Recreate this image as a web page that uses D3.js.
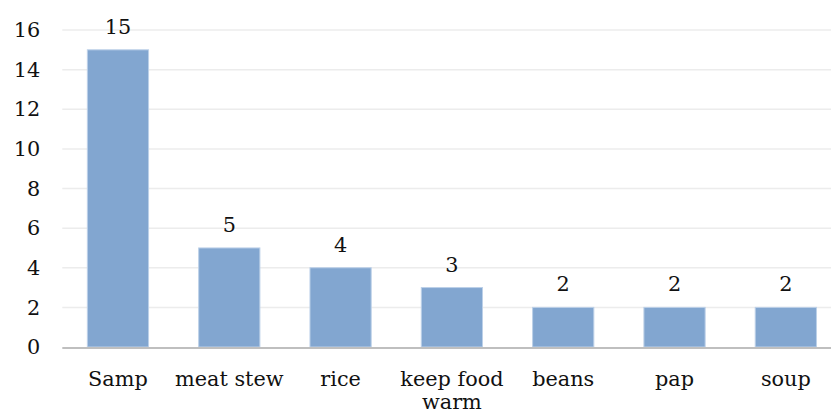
<!DOCTYPE html>
<html>
<head>
<meta charset="utf-8">
<script src="https://cdn.jsdelivr.net/npm/d3@7"></script>
<style>
  html, body { margin: 0; padding: 0; background: #fff; }
  svg { display: block; }
  text { font-family: "DejaVu Serif", "Liberation Serif", serif; fill: #111; }
</style>
</head>
<body>
<svg id="chart" width="831" height="414"></svg>
<script>
// Dishes and how many times each was mentioned
const categories = ["Samp", "meat stew", "rice", "keep food warm", "beans", "pap", "soup"];
const counts = [15, 5, 4, 3, 2, 2, 2];
const yTicks = [0, 2, 4, 6, 8, 10, 12, 14, 16];

const svg = d3.select("#chart");
const W = 831, H = 414;
const plot = { left: 62.3, right: 841.5, top: 30, bottom: 347 };
const fontSize = 20.8;

const x = d3.scaleBand()
  .domain(categories)
  .range([plot.left, plot.right])
  .paddingInner(0.45)
  .paddingOuter(0.225);

const y = d3.scaleLinear()
  .domain([0, 16])
  .range([plot.bottom, plot.top]);

// horizontal gridlines
svg.append("g")
  .selectAll("line")
  .data(yTicks.filter(d => d > 0))
  .join("line")
  .attr("x1", plot.left)
  .attr("x2", W)
  .attr("y1", d => y(d))
  .attr("y2", d => y(d))
  .attr("stroke", "#ececec")
  .attr("stroke-width", 1.5);

// y axis labels (no axis line or ticks)
const yAxis = svg.append("g")
  .attr("transform", `translate(${plot.left},0)`)
  .call(d3.axisLeft(y).tickValues(yTicks).tickSize(0).tickPadding(22));
yAxis.select(".domain").remove();
yAxis.selectAll("text")
  .attr("font-family", "DejaVu Serif")
  .attr("font-size", fontSize)
  .attr("fill", "#111");

// bars
svg.append("g")
  .selectAll("rect")
  .data(counts)
  .join("rect")
  .attr("x", (d, i) => x(categories[i]))
  .attr("width", x.bandwidth())
  .attr("y", d => y(d))
  .attr("height", d => y(0) - y(d))
  .attr("fill", "#82a6d0")
  .attr("stroke", "#bcd0e8")
  .attr("stroke-width", 1);

// value labels
svg.append("g")
  .selectAll("text")
  .data(counts)
  .join("text")
  .attr("x", (d, i) => x(categories[i]) + x.bandwidth() / 2)
  .attr("y", d => y(d) - 16)
  .attr("text-anchor", "middle")
  .attr("font-size", fontSize)
  .text(d => d);

// baseline
svg.append("line")
  .attr("x1", plot.left)
  .attr("x2", W)
  .attr("y1", y(0) + 1)
  .attr("y2", y(0) + 1)
  .attr("stroke", "#bfbfbf")
  .attr("stroke-width", 2);

// category labels, wrapped to the band width
const maxWidth = x.step() + 4;
const catG = svg.append("g");
categories.forEach(c => {
  const cx = x(c) + x.bandwidth() / 2;
  const t = catG.append("text")
    .attr("x", cx)
    .attr("y", y(0) + 39)
    .attr("text-anchor", "middle")
    .attr("font-size", fontSize);
  const words = c.split(" ");
  let line = [];
  let tspan = t.append("tspan").attr("x", cx).attr("dy", 0);
  words.forEach(w => {
    line.push(w);
    tspan.text(line.join(" "));
    if (tspan.node().getComputedTextLength() > maxWidth && line.length > 1) {
      line.pop();
      tspan.text(line.join(" "));
      line = [w];
      tspan = t.append("tspan")
        .attr("x", cx)
        .attr("dy", 23)
        .text(w);
    }
  });
});
</script>
</body>
</html>
